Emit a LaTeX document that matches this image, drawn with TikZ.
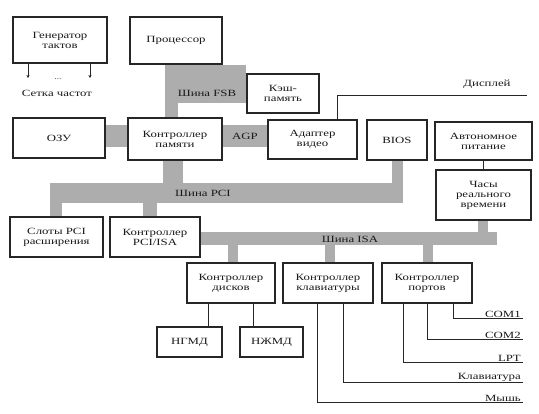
\documentclass[tikz,border=0pt]{standalone}
\usepackage{fontspec}
\setmainfont{Liberation Serif}[FakeStretch=1.35]
\usetikzlibrary{arrows.meta}

\begin{document}
\begin{tikzpicture}[x=1pt, y=-1pt,
    every node/.style={font=\fontsize{9.5}{10}\selectfont, text=black!90},
    unit/.style={draw=black!85, line width=1.3pt, fill=white, align=center, inner sep=1pt},
    bus/.style={fill=black!32},
    wire/.style={draw=black!85, line width=0.9pt},
    portlabel/.style={anchor=south east, inner sep=1pt}]
  \useasboundingbox (0,0) rectangle (539,413);
  % top row
  \node[unit, minimum width=94pt, minimum height=46pt] (gen) at (60,40) {Генератор\\тактов};
  \node[unit, minimum width=92pt, minimum height=47pt] (cpu) at (176,40.5) {Процессор};
  \node[unit, minimum width=72pt, minimum height=39pt] (cache) at (283,93.5) {Кэш-\\память};
  % memory row
  \node[unit, minimum width=92pt, minimum height=40pt] (ram) at (59,138) {ОЗУ};
  \node[unit, minimum width=94pt, minimum height=42pt] (mc) at (175,139) {Контроллер\\памяти};
  \node[unit, minimum width=89pt, minimum height=39pt] (video) at (312.5,139.5) {Адаптер\\видео};
  \node[unit, minimum width=60pt, minimum height=40pt] (bios) at (397,140) {BIOS};
  \node[unit, minimum width=97pt, minimum height=38pt] (power) at (483.5,141) {Автономное\\питание};
  \node[unit, minimum width=95pt, minimum height=50pt] (rtc) at (483.5,195) {Часы\\реального\\времени};
  % PCI row
  \node[unit, minimum width=93pt, minimum height=40pt] (slots) at (56.5,237) {Слоты PCI\\расширения};
  \node[unit, minimum width=90pt, minimum height=40pt] (bridge) at (155,237) {Контроллер\\PCI/ISA};
  % ISA devices
  \node[unit, minimum width=88pt, minimum height=40pt] (fdc) at (231,283) {Контроллер\\дисков};
  \node[unit, minimum width=90pt, minimum height=40pt] (kbc) at (328,283) {Контроллер\\клавиатуры};
  \node[unit, minimum width=90pt, minimum height=40pt] (ports) at (427,283) {Контроллер\\портов};
  \node[unit, minimum width=65pt, minimum height=30pt] (fdd) at (189.5,342) {НГМД};
  \node[unit, minimum width=63pt, minimum height=30pt] (hdd) at (271.5,342) {НЖМД};

  % buses
  \fill[bus] ([xshift=-11pt]cpu.south) rectangle ([xshift=3pt]mc.north);
  \fill[bus] (cpu.south -| 178,82) rectangle (cache.west |- 0,103);
  \fill[bus] (ram.east |- 0,125) rectangle (mc.west |- 0,147);
  \fill[bus] (mc.east |- 0,125) rectangle (video.west |- 0,147);
  \fill[bus] ([xshift=-12pt]mc.south) rectangle (183,183);
  \fill[bus] (50,183) rectangle (403,203);
  \fill[bus] (bios.south -| 392,0) rectangle (403,183);
  \fill[bus] (50,203) rectangle (slots.north -| 62,0);
  \fill[bus] (143,203) rectangle (bridge.north -| 157,0);
  \fill[bus] (bridge.east |- 0,232) rectangle (497,245);
  \fill[bus] (228,245) rectangle (fdc.north -| 238,0);
  \fill[bus] (325,245) rectangle (kbc.north -| 335,0);
  \fill[bus] (423,245) rectangle (ports.north -| 433,0);
  \fill[bus] (478,232) rectangle (rtc.south -| 488,0);
  % redraw boxes over the buses
  \foreach \n in {cpu,cache,ram,mc,video,bios,slots,bridge,fdc,kbc,ports,rtc}
    \draw[draw=black!85, line width=1.3pt] (\n.north west) rectangle (\n.south east);
  % bus labels
  \node (fsb) at (207,93) {Шина FSB};
  \node (agp) at (245,136) {AGP};
  \node (pci) at (203,193) {Шина PCI};
  \node (isa) at (350,239) {Шина ISA};

  % clock outputs
  \coordinate (clk1) at (28,78);
  \coordinate (clk2) at (90,78);
  \draw[wire, -{Stealth[length=3pt,width=3pt]}] (gen.south -| clk1) -- (clk1);
  \draw[wire, -{Stealth[length=3pt,width=3pt]}] (gen.south -| clk2) -- (clk2);
  \node[font=\fontsize{7}{7}\selectfont] (dots) at (58,79) {...};
  \node (freq) at (57,93) {Сетка частот};
  % display
  \coordinate (disp) at (527,95);
  \draw[wire] (video.north -| 337,0) |- (disp);
  \node (displabel) at (487,84) {Дисплей};
  % power to clock
  \draw[wire] (power.south) -- (rtc.north);
  % drives
  \draw[wire] (fdc.south -| 208,0) -- (fdd.north -| 208,0);
  \draw[wire] (fdc.south -| 253,0) -- (hdd.north -| 253,0);
  % keyboard and mouse
  \coordinate (mouse) at (523,402);
  \coordinate (kbd) at (523,382);
  \draw[wire] (kbc.south -| 317,0) |- (mouse);
  \draw[wire] (kbc.south -| 343,0) |- (kbd);
  % ports
  \coordinate (lpt) at (523,362);
  \coordinate (com2) at (523,339);
  \coordinate (com1) at (523,318);
  \draw[wire] (ports.south -| 403,0) |- (lpt);
  \draw[wire] (ports.south -| 427,0) |- (com2);
  \draw[wire] (ports.south -| 453,0) |- (com1);
  \node[portlabel] at ([xshift=-1pt,yshift=-1pt]com1) {COM1};
  \node[portlabel] at ([xshift=-1pt,yshift=-1pt]com2) {COM2};
  \node[portlabel] at ([xshift=-1pt,yshift=-1pt]lpt) {LPT};
  \node[portlabel] at ([xshift=-1pt,yshift=-1pt]kbd) {Клавиатура};
  \node[portlabel] at ([xshift=-1pt,yshift=-1pt]mouse) {Мышь};
\end{tikzpicture}
\end{document}
